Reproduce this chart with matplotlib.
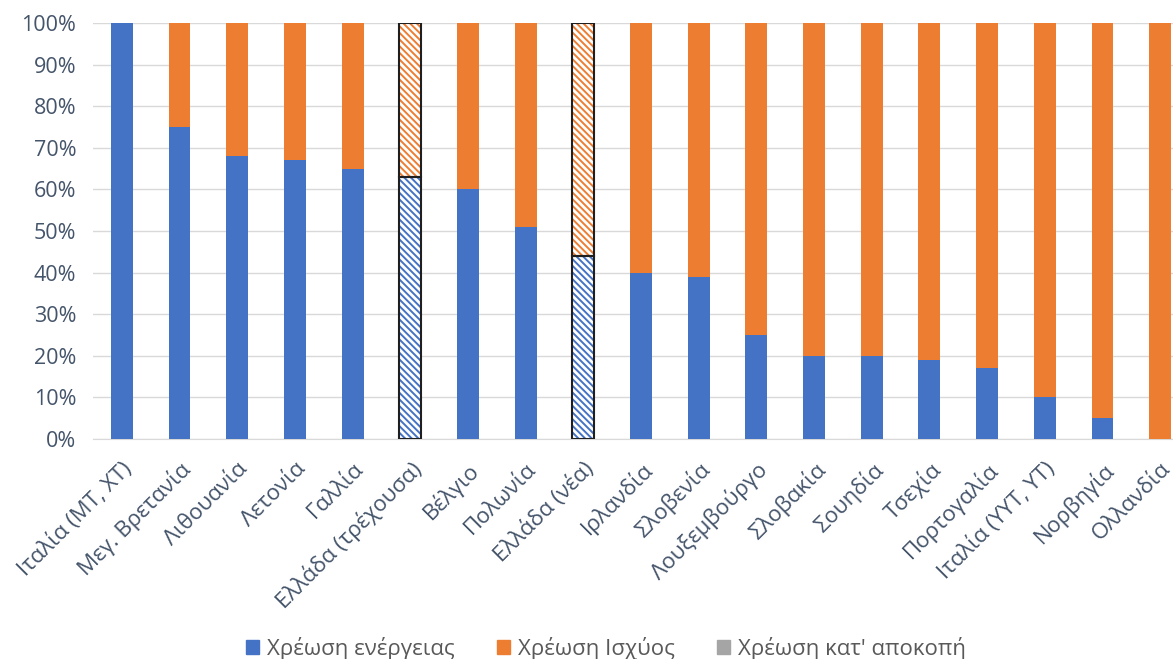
import numpy as np
import matplotlib
matplotlib.use("Agg")
import matplotlib.pyplot as plt
from matplotlib.patches import Patch

plt.rcParams['font.family'] = ['Open Sans', 'DejaVu Sans']
plt.rcParams['hatch.linewidth'] = 1.4

countries = ["Ιταλία (ΜΤ, ΧΤ)", "Μεγ. Βρετανία", "Λιθουανία", "Λετονία", "Γαλλία",
             "Ελλάδα (τρέχουσα)", "Βέλγιο", "Πολωνία", "Ελλάδα (νέα)", "Ιρλανδία",
             "Σλοβενία", "Λουξεμβούργο", "Σλοβακία", "Σουηδία", "Τσεχία",
             "Πορτογαλία", "Ιταλία (ΥΥΤ, ΥΤ)", "Νορβηγία", "Ολλανδία"]
energy = [100, 75, 68, 67, 65, 63, 60, 51, 44, 40, 39, 25, 20, 20, 19, 17, 10, 5, 0]
power = [0, 25, 32, 33, 35, 37, 40, 49, 56, 60, 61, 75, 80, 80, 81, 83, 90, 95, 100]
flat = [0] * 19
hatched = ["Ελλάδα (τρέχουσα)", "Ελλάδα (νέα)"]

blue = "#4472C4"
orange = "#ED7D31"
grey = "#A5A5A5"
text_col = "#44546A"

fig = plt.figure(figsize=(11.73, 6.59), dpi=100)
ax = fig.add_axes([93 / 1173, 220 / 659, (1189 - 93) / 1173, 416 / 659])

x = np.arange(len(countries))
e = np.array(energy, dtype=float)
p = np.array(power, dtype=float)
f = np.array(flat, dtype=float)
width = 0.38

for i, c in enumerate(countries):
    if c in hatched:
        # striped fill, then a dark outline on top
        ax.bar(x[i], e[i], width, color="white", edgecolor=blue, hatch="\\\\\\\\\\", linewidth=0, zorder=3)
        ax.bar(x[i], p[i], width, bottom=e[i], color="white", edgecolor=orange, hatch="\\\\\\\\\\", linewidth=0, zorder=3)
        ax.bar(x[i], e[i], width, fill=False, edgecolor="#1f1f1f", linewidth=1.5, zorder=4)
        ax.bar(x[i], p[i], width, bottom=e[i], fill=False, edgecolor="#1f1f1f", linewidth=1.5, zorder=4)
    else:
        ax.bar(x[i], e[i], width, color=blue, zorder=3)
        ax.bar(x[i], p[i], width, bottom=e[i], color=orange, zorder=3)
    ax.bar(x[i], f[i], width, bottom=e[i] + p[i], color=grey, zorder=3)

ax.set_xlim(-0.5, len(countries) - 0.5)
ax.set_ylim(0, 100)
ax.set_yticks(np.arange(0, 101, 10))
ax.set_yticklabels([f"{v}%" for v in range(0, 101, 10)], fontsize=15.5, color=text_col)
ax.yaxis.grid(True, color="#D9D9D9", linewidth=1, zorder=0)
ax.set_axisbelow(True)
ax.tick_params(axis="y", length=0, pad=12)
for s in ["top", "right", "left"]:
    ax.spines[s].set_visible(False)
ax.spines["bottom"].set_color("#D9D9D9")

ax.set_xticks(x)
ax.set_xticklabels(countries, rotation=45, ha="right", rotation_mode="anchor",
                   fontsize=16, color=text_col)
ax.tick_params(axis="x", length=0, pad=14)

handles = [Patch(color=blue, label="Χρέωση ενέργειας"),
           Patch(color=orange, label="Χρέωση Ισχύος"),
           Patch(color=grey, label="Χρέωση κατ' αποκοπή")]
fig.legend(handles=handles, loc="center", bbox_to_anchor=(606 / 1173, 1 - 648 / 659),
           ncol=3, frameon=False, fontsize=16, handlelength=0.6, handleheight=0.6,
           columnspacing=1.9, handletextpad=0.35, labelcolor="#595959")

fig.savefig("out.png", dpi=100)
